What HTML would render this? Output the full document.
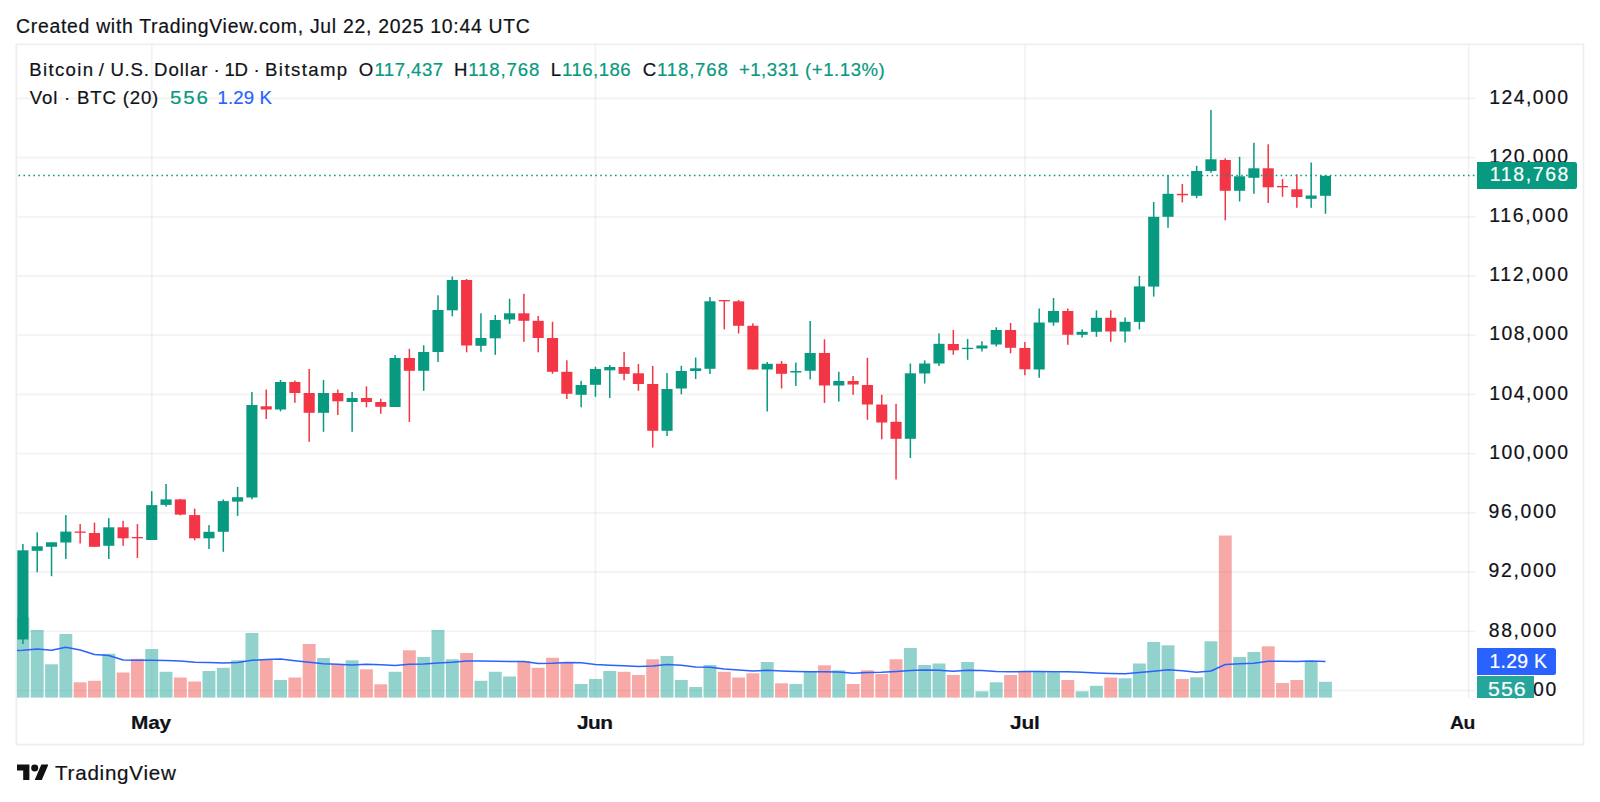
<!DOCTYPE html>
<html lang="en"><head><meta charset="utf-8"><title>BTCUSD chart</title>
<style>
html,body{margin:0;padding:0;background:#fff;}
body{width:1600px;height:802px;position:relative;overflow:hidden;font-family:"Liberation Sans",Arial,sans-serif;color:#111217;}
.t{position:absolute;white-space:nowrap;line-height:1;-webkit-text-stroke:0.2px currentColor;}
.hd{font-size:19.4px;}
.lg{font-size:18.6px;}
.g{color:#089981;} .b{color:#2962ff;} .w{color:#fff;}
.ax{font-size:19.4px;}
.tm{font-size:18.6px;font-weight:bold;}
.tv{font-size:20.6px;}
.tag{position:absolute;}
</style></head><body>
<svg width="1600" height="802" viewBox="0 0 1600 802" style="position:absolute;left:0;top:0">
<defs><clipPath id="pane"><rect x="17" y="45" width="1458.5" height="653.5"/></clipPath></defs>
<g fill="rgba(40,40,50,0.055)"><rect x="17" y="97.50" width="1458.3" height="1.8"/><rect x="17" y="156.71" width="1458.3" height="1.8"/><rect x="17" y="215.92" width="1458.3" height="1.8"/><rect x="17" y="275.13" width="1458.3" height="1.8"/><rect x="17" y="334.34" width="1458.3" height="1.8"/><rect x="17" y="393.55" width="1458.3" height="1.8"/><rect x="17" y="452.76" width="1458.3" height="1.8"/><rect x="17" y="511.97" width="1458.3" height="1.8"/><rect x="17" y="571.18" width="1458.3" height="1.8"/><rect x="17" y="630.39" width="1458.3" height="1.8"/><rect x="17" y="689.60" width="1458.3" height="1.8"/><rect x="150.83" y="45" width="1.8" height="653.6"/><rect x="594.56" y="45" width="1.8" height="653.6"/><rect x="1023.98" y="45" width="1.8" height="653.6"/><rect x="1467.71" y="45" width="1.8" height="653.6"/></g>
<rect x="16.4" y="44.3" width="1567.1" height="700.3" fill="none" stroke="#eeeef0" stroke-width="1.7"/>
<g clip-path="url(#pane)">
<rect x="16.45" y="617.5" width="12.9" height="80.1" fill="rgba(38,166,154,0.5)"/><rect x="30.76" y="630.0" width="12.9" height="67.6" fill="rgba(38,166,154,0.5)"/><rect x="45.08" y="664.3" width="12.9" height="33.3" fill="rgba(38,166,154,0.5)"/><rect x="59.39" y="634.0" width="12.9" height="63.6" fill="rgba(38,166,154,0.5)"/><rect x="73.71" y="682.3" width="12.9" height="15.3" fill="rgba(239,83,80,0.5)"/><rect x="88.02" y="680.8" width="12.9" height="16.8" fill="rgba(239,83,80,0.5)"/><rect x="102.33" y="653.8" width="12.9" height="43.8" fill="rgba(38,166,154,0.5)"/><rect x="116.65" y="672.5" width="12.9" height="25.1" fill="rgba(239,83,80,0.5)"/><rect x="130.96" y="658.8" width="12.9" height="38.8" fill="rgba(239,83,80,0.5)"/><rect x="145.28" y="649.0" width="12.9" height="48.6" fill="rgba(38,166,154,0.5)"/><rect x="159.59" y="671.8" width="12.9" height="25.8" fill="rgba(38,166,154,0.5)"/><rect x="173.90" y="677.5" width="12.9" height="20.1" fill="rgba(239,83,80,0.5)"/><rect x="188.22" y="681.5" width="12.9" height="16.1" fill="rgba(239,83,80,0.5)"/><rect x="202.53" y="671.0" width="12.9" height="26.6" fill="rgba(38,166,154,0.5)"/><rect x="216.85" y="667.8" width="12.9" height="29.8" fill="rgba(38,166,154,0.5)"/><rect x="231.16" y="660.3" width="12.9" height="37.3" fill="rgba(38,166,154,0.5)"/><rect x="245.47" y="633.0" width="12.9" height="64.6" fill="rgba(38,166,154,0.5)"/><rect x="259.79" y="659.5" width="12.9" height="38.1" fill="rgba(239,83,80,0.5)"/><rect x="274.10" y="680.0" width="12.9" height="17.6" fill="rgba(38,166,154,0.5)"/><rect x="288.42" y="677.5" width="12.9" height="20.1" fill="rgba(239,83,80,0.5)"/><rect x="302.73" y="644.0" width="12.9" height="53.6" fill="rgba(239,83,80,0.5)"/><rect x="317.04" y="658.0" width="12.9" height="39.6" fill="rgba(38,166,154,0.5)"/><rect x="331.36" y="664.3" width="12.9" height="33.3" fill="rgba(239,83,80,0.5)"/><rect x="345.67" y="660.3" width="12.9" height="37.3" fill="rgba(38,166,154,0.5)"/><rect x="359.99" y="669.3" width="12.9" height="28.3" fill="rgba(239,83,80,0.5)"/><rect x="374.30" y="684.3" width="12.9" height="13.3" fill="rgba(239,83,80,0.5)"/><rect x="388.61" y="671.8" width="12.9" height="25.8" fill="rgba(38,166,154,0.5)"/><rect x="402.93" y="650.3" width="12.9" height="47.3" fill="rgba(239,83,80,0.5)"/><rect x="417.24" y="657.0" width="12.9" height="40.6" fill="rgba(38,166,154,0.5)"/><rect x="431.56" y="630.0" width="12.9" height="67.6" fill="rgba(38,166,154,0.5)"/><rect x="445.87" y="659.3" width="12.9" height="38.3" fill="rgba(38,166,154,0.5)"/><rect x="460.18" y="653.0" width="12.9" height="44.6" fill="rgba(239,83,80,0.5)"/><rect x="474.50" y="680.8" width="12.9" height="16.8" fill="rgba(38,166,154,0.5)"/><rect x="488.81" y="671.8" width="12.9" height="25.8" fill="rgba(38,166,154,0.5)"/><rect x="503.13" y="676.5" width="12.9" height="21.1" fill="rgba(38,166,154,0.5)"/><rect x="517.44" y="661.3" width="12.9" height="36.3" fill="rgba(239,83,80,0.5)"/><rect x="531.75" y="667.8" width="12.9" height="29.8" fill="rgba(239,83,80,0.5)"/><rect x="546.07" y="657.8" width="12.9" height="39.8" fill="rgba(239,83,80,0.5)"/><rect x="560.38" y="663.0" width="12.9" height="34.6" fill="rgba(239,83,80,0.5)"/><rect x="574.70" y="684.0" width="12.9" height="13.6" fill="rgba(38,166,154,0.5)"/><rect x="589.01" y="679.0" width="12.9" height="18.6" fill="rgba(38,166,154,0.5)"/><rect x="603.32" y="671.0" width="12.9" height="26.6" fill="rgba(38,166,154,0.5)"/><rect x="617.64" y="671.8" width="12.9" height="25.8" fill="rgba(239,83,80,0.5)"/><rect x="631.95" y="675.0" width="12.9" height="22.6" fill="rgba(239,83,80,0.5)"/><rect x="646.27" y="659.3" width="12.9" height="38.3" fill="rgba(239,83,80,0.5)"/><rect x="660.58" y="656.0" width="12.9" height="41.6" fill="rgba(38,166,154,0.5)"/><rect x="674.89" y="680.0" width="12.9" height="17.6" fill="rgba(38,166,154,0.5)"/><rect x="689.21" y="687.0" width="12.9" height="10.6" fill="rgba(38,166,154,0.5)"/><rect x="703.52" y="665.0" width="12.9" height="32.6" fill="rgba(38,166,154,0.5)"/><rect x="717.84" y="671.8" width="12.9" height="25.8" fill="rgba(239,83,80,0.5)"/><rect x="732.15" y="677.5" width="12.9" height="20.1" fill="rgba(239,83,80,0.5)"/><rect x="746.46" y="673.3" width="12.9" height="24.3" fill="rgba(239,83,80,0.5)"/><rect x="760.78" y="662.0" width="12.9" height="35.6" fill="rgba(38,166,154,0.5)"/><rect x="775.09" y="683.3" width="12.9" height="14.3" fill="rgba(239,83,80,0.5)"/><rect x="789.41" y="684.0" width="12.9" height="13.6" fill="rgba(38,166,154,0.5)"/><rect x="803.72" y="671.8" width="12.9" height="25.8" fill="rgba(38,166,154,0.5)"/><rect x="818.03" y="665.3" width="12.9" height="32.3" fill="rgba(239,83,80,0.5)"/><rect x="832.35" y="670.3" width="12.9" height="27.3" fill="rgba(38,166,154,0.5)"/><rect x="846.66" y="684.0" width="12.9" height="13.6" fill="rgba(239,83,80,0.5)"/><rect x="860.98" y="670.3" width="12.9" height="27.3" fill="rgba(239,83,80,0.5)"/><rect x="875.29" y="674.0" width="12.9" height="23.6" fill="rgba(239,83,80,0.5)"/><rect x="889.60" y="659.3" width="12.9" height="38.3" fill="rgba(239,83,80,0.5)"/><rect x="903.92" y="648.0" width="12.9" height="49.6" fill="rgba(38,166,154,0.5)"/><rect x="918.23" y="665.0" width="12.9" height="32.6" fill="rgba(38,166,154,0.5)"/><rect x="932.55" y="663.5" width="12.9" height="34.1" fill="rgba(38,166,154,0.5)"/><rect x="946.86" y="675.0" width="12.9" height="22.6" fill="rgba(239,83,80,0.5)"/><rect x="961.17" y="662.0" width="12.9" height="35.6" fill="rgba(38,166,154,0.5)"/><rect x="975.49" y="691.3" width="12.9" height="6.3" fill="rgba(38,166,154,0.5)"/><rect x="989.80" y="682.3" width="12.9" height="15.3" fill="rgba(38,166,154,0.5)"/><rect x="1004.12" y="675.0" width="12.9" height="22.6" fill="rgba(239,83,80,0.5)"/><rect x="1018.43" y="672.0" width="12.9" height="25.6" fill="rgba(239,83,80,0.5)"/><rect x="1032.74" y="671.8" width="12.9" height="25.8" fill="rgba(38,166,154,0.5)"/><rect x="1047.06" y="672.3" width="12.9" height="25.3" fill="rgba(38,166,154,0.5)"/><rect x="1061.37" y="680.0" width="12.9" height="17.6" fill="rgba(239,83,80,0.5)"/><rect x="1075.69" y="691.3" width="12.9" height="6.3" fill="rgba(38,166,154,0.5)"/><rect x="1090.00" y="685.8" width="12.9" height="11.8" fill="rgba(38,166,154,0.5)"/><rect x="1104.31" y="677.5" width="12.9" height="20.1" fill="rgba(239,83,80,0.5)"/><rect x="1118.63" y="678.3" width="12.9" height="19.3" fill="rgba(38,166,154,0.5)"/><rect x="1132.94" y="663.5" width="12.9" height="34.1" fill="rgba(38,166,154,0.5)"/><rect x="1147.26" y="642.0" width="12.9" height="55.6" fill="rgba(38,166,154,0.5)"/><rect x="1161.57" y="645.3" width="12.9" height="52.3" fill="rgba(38,166,154,0.5)"/><rect x="1175.88" y="679.0" width="12.9" height="18.6" fill="rgba(239,83,80,0.5)"/><rect x="1190.20" y="677.3" width="12.9" height="20.3" fill="rgba(38,166,154,0.5)"/><rect x="1204.51" y="641.3" width="12.9" height="56.3" fill="rgba(38,166,154,0.5)"/><rect x="1218.83" y="535.5" width="12.9" height="162.1" fill="rgba(239,83,80,0.5)"/><rect x="1233.14" y="657.0" width="12.9" height="40.6" fill="rgba(38,166,154,0.5)"/><rect x="1247.45" y="652.0" width="12.9" height="45.6" fill="rgba(38,166,154,0.5)"/><rect x="1261.77" y="646.3" width="12.9" height="51.3" fill="rgba(239,83,80,0.5)"/><rect x="1276.08" y="683.0" width="12.9" height="14.6" fill="rgba(239,83,80,0.5)"/><rect x="1290.40" y="680.0" width="12.9" height="17.6" fill="rgba(239,83,80,0.5)"/><rect x="1304.71" y="661.3" width="12.9" height="36.3" fill="rgba(38,166,154,0.5)"/><rect x="1319.02" y="681.8" width="12.9" height="15.8" fill="rgba(38,166,154,0.5)"/>
<polyline fill="none" stroke="#2962ff" stroke-width="1.5" stroke-linejoin="round" points="17.0,650.4 22.9,650.2 37.2,649.0 51.5,650.3 65.8,647.3 80.2,650.0 94.5,654.5 108.8,655.5 123.1,660.0 137.4,660.2 151.7,660.3 166.0,660.5 180.4,661.0 194.7,662.2 209.0,662.5 223.3,663.0 237.6,662.5 251.9,660.3 266.2,659.5 280.6,659.0 294.9,660.8 309.2,662.3 323.5,663.8 337.8,664.3 352.1,665.0 366.4,664.3 380.8,664.8 395.1,665.5 409.4,664.3 423.7,664.0 438.0,663.0 452.3,662.3 466.6,661.0 480.9,661.0 495.3,661.3 509.6,661.5 523.9,661.5 538.2,663.5 552.5,663.3 566.8,662.5 581.1,662.8 595.5,664.5 609.8,665.3 624.1,665.8 638.4,666.5 652.7,666.0 667.0,664.5 681.3,665.3 695.7,667.0 710.0,667.3 724.3,669.0 738.6,670.0 752.9,671.0 767.2,670.2 781.5,671.0 795.9,671.5 810.2,671.8 824.5,671.8 838.8,672.0 853.1,673.3 867.4,672.5 881.7,672.3 896.1,671.5 910.4,670.5 924.7,670.0 939.0,670.3 953.3,671.3 967.6,670.3 981.9,670.5 996.3,671.5 1010.6,671.8 1024.9,671.5 1039.2,671.5 1053.5,671.8 1067.8,671.8 1082.1,672.3 1096.5,673.0 1110.8,673.5 1125.1,673.8 1139.4,672.5 1153.7,671.2 1168.0,669.8 1182.3,670.8 1196.6,672.3 1211.0,671.0 1225.3,664.5 1239.6,663.8 1253.9,663.3 1268.2,661.3 1282.5,661.3 1296.8,661.5 1311.2,661.0 1325.5,661.5"/>
<rect x="22.15" y="544.0" width="1.5" height="100.0" fill="#089981"/><rect x="17.35" y="550.3" width="11.1" height="89.2" fill="#089981"/><rect x="36.46" y="532.3" width="1.5" height="39.9" fill="#089981"/><rect x="31.66" y="546.3" width="11.1" height="4.5" fill="#089981"/><rect x="50.78" y="542.3" width="1.5" height="33.9" fill="#089981"/><rect x="45.98" y="542.3" width="11.1" height="4.5" fill="#089981"/><rect x="65.09" y="515.1" width="1.5" height="43.9" fill="#089981"/><rect x="60.29" y="531.6" width="11.1" height="10.9" fill="#089981"/><rect x="79.41" y="524.1" width="1.5" height="19.4" fill="#f23645"/><rect x="74.61" y="531.5" width="11.1" height="1.3" fill="#f23645"/><rect x="93.72" y="522.6" width="1.5" height="24.2" fill="#f23645"/><rect x="88.92" y="533.0" width="11.1" height="13.8" fill="#f23645"/><rect x="108.03" y="518.1" width="1.5" height="40.9" fill="#089981"/><rect x="103.23" y="527.3" width="11.1" height="18.5" fill="#089981"/><rect x="122.35" y="520.8" width="1.5" height="25.0" fill="#f23645"/><rect x="117.55" y="527.3" width="11.1" height="11.0" fill="#f23645"/><rect x="136.66" y="524.1" width="1.5" height="33.9" fill="#f23645"/><rect x="131.86" y="537.0" width="11.1" height="1.3" fill="#f23645"/><rect x="150.98" y="491.2" width="1.5" height="48.8" fill="#089981"/><rect x="146.18" y="505.1" width="11.1" height="34.9" fill="#089981"/><rect x="165.29" y="484.0" width="1.5" height="22.6" fill="#089981"/><rect x="160.49" y="499.4" width="11.1" height="5.5" fill="#089981"/><rect x="179.60" y="498.9" width="1.5" height="16.5" fill="#f23645"/><rect x="174.80" y="499.4" width="11.1" height="15.2" fill="#f23645"/><rect x="193.92" y="508.6" width="1.5" height="31.7" fill="#f23645"/><rect x="189.12" y="515.1" width="11.1" height="23.2" fill="#f23645"/><rect x="208.23" y="525.1" width="1.5" height="23.9" fill="#089981"/><rect x="203.43" y="531.8" width="11.1" height="6.5" fill="#089981"/><rect x="222.55" y="499.4" width="1.5" height="52.4" fill="#089981"/><rect x="217.75" y="501.1" width="11.1" height="30.7" fill="#089981"/><rect x="236.86" y="486.9" width="1.5" height="29.0" fill="#089981"/><rect x="232.06" y="497.2" width="11.1" height="4.4" fill="#089981"/><rect x="251.17" y="392.0" width="1.5" height="107.2" fill="#089981"/><rect x="246.37" y="405.0" width="11.1" height="92.5" fill="#089981"/><rect x="265.49" y="389.5" width="1.5" height="29.5" fill="#f23645"/><rect x="260.69" y="406.3" width="11.1" height="3.2" fill="#f23645"/><rect x="279.80" y="380.0" width="1.5" height="31.3" fill="#089981"/><rect x="275.00" y="382.0" width="11.1" height="27.5" fill="#089981"/><rect x="294.12" y="380.5" width="1.5" height="22.3" fill="#f23645"/><rect x="289.32" y="382.0" width="11.1" height="11.0" fill="#f23645"/><rect x="308.43" y="369.0" width="1.5" height="72.8" fill="#f23645"/><rect x="303.63" y="393.0" width="11.1" height="19.8" fill="#f23645"/><rect x="322.74" y="380.0" width="1.5" height="51.8" fill="#089981"/><rect x="317.94" y="393.0" width="11.1" height="19.8" fill="#089981"/><rect x="337.06" y="389.5" width="1.5" height="25.5" fill="#f23645"/><rect x="332.26" y="393.0" width="11.1" height="8.3" fill="#f23645"/><rect x="351.37" y="392.0" width="1.5" height="39.8" fill="#089981"/><rect x="346.57" y="398.0" width="11.1" height="4.0" fill="#089981"/><rect x="365.69" y="386.3" width="1.5" height="21.0" fill="#f23645"/><rect x="360.89" y="398.0" width="11.1" height="4.0" fill="#f23645"/><rect x="380.00" y="398.8" width="1.5" height="15.0" fill="#f23645"/><rect x="375.20" y="402.0" width="11.1" height="4.8" fill="#f23645"/><rect x="394.31" y="355.0" width="1.5" height="52.0" fill="#089981"/><rect x="389.51" y="358.0" width="11.1" height="49.0" fill="#089981"/><rect x="408.63" y="348.8" width="1.5" height="73.2" fill="#f23645"/><rect x="403.83" y="358.0" width="11.1" height="12.8" fill="#f23645"/><rect x="422.94" y="345.3" width="1.5" height="45.5" fill="#089981"/><rect x="418.14" y="352.0" width="11.1" height="18.8" fill="#089981"/><rect x="437.26" y="295.3" width="1.5" height="66.7" fill="#089981"/><rect x="432.46" y="310.0" width="11.1" height="42.0" fill="#089981"/><rect x="451.57" y="276.5" width="1.5" height="39.8" fill="#089981"/><rect x="446.77" y="280.0" width="11.1" height="30.3" fill="#089981"/><rect x="465.88" y="279.0" width="1.5" height="73.3" fill="#f23645"/><rect x="461.08" y="280.0" width="11.1" height="65.5" fill="#f23645"/><rect x="480.20" y="313.3" width="1.5" height="38.5" fill="#089981"/><rect x="475.40" y="338.0" width="11.1" height="7.8" fill="#089981"/><rect x="494.51" y="315.0" width="1.5" height="39.8" fill="#089981"/><rect x="489.71" y="320.0" width="11.1" height="18.3" fill="#089981"/><rect x="508.83" y="298.8" width="1.5" height="25.0" fill="#089981"/><rect x="504.03" y="313.3" width="11.1" height="6.2" fill="#089981"/><rect x="523.14" y="293.8" width="1.5" height="48.0" fill="#f23645"/><rect x="518.34" y="313.3" width="11.1" height="7.5" fill="#f23645"/><rect x="537.45" y="316.0" width="1.5" height="36.3" fill="#f23645"/><rect x="532.65" y="320.8" width="11.1" height="17.2" fill="#f23645"/><rect x="551.77" y="321.8" width="1.5" height="52.0" fill="#f23645"/><rect x="546.97" y="338.0" width="11.1" height="33.8" fill="#f23645"/><rect x="566.08" y="360.3" width="1.5" height="38.7" fill="#f23645"/><rect x="561.28" y="371.8" width="11.1" height="22.0" fill="#f23645"/><rect x="580.40" y="380.8" width="1.5" height="26.5" fill="#089981"/><rect x="575.60" y="385.0" width="11.1" height="9.8" fill="#089981"/><rect x="594.71" y="366.8" width="1.5" height="30.0" fill="#089981"/><rect x="589.91" y="369.0" width="11.1" height="15.8" fill="#089981"/><rect x="609.02" y="365.0" width="1.5" height="33.0" fill="#089981"/><rect x="604.22" y="367.0" width="11.1" height="3.3" fill="#089981"/><rect x="623.34" y="352.0" width="1.5" height="28.3" fill="#f23645"/><rect x="618.54" y="367.0" width="11.1" height="6.8" fill="#f23645"/><rect x="637.65" y="364.0" width="1.5" height="26.8" fill="#f23645"/><rect x="632.85" y="373.3" width="11.1" height="10.7" fill="#f23645"/><rect x="651.97" y="366.0" width="1.5" height="81.5" fill="#f23645"/><rect x="647.17" y="384.0" width="11.1" height="46.8" fill="#f23645"/><rect x="666.28" y="373.0" width="1.5" height="63.0" fill="#089981"/><rect x="661.48" y="389.0" width="11.1" height="41.8" fill="#089981"/><rect x="680.59" y="365.8" width="1.5" height="28.5" fill="#089981"/><rect x="675.79" y="371.0" width="11.1" height="17.5" fill="#089981"/><rect x="694.91" y="357.5" width="1.5" height="21.5" fill="#089981"/><rect x="690.11" y="368.3" width="11.1" height="2.7" fill="#089981"/><rect x="709.22" y="297.0" width="1.5" height="77.0" fill="#089981"/><rect x="704.42" y="301.3" width="11.1" height="67.5" fill="#089981"/><rect x="723.54" y="300.0" width="1.5" height="29.3" fill="#f23645"/><rect x="718.74" y="300.0" width="11.1" height="1.3" fill="#f23645"/><rect x="737.85" y="300.0" width="1.5" height="33.5" fill="#f23645"/><rect x="733.05" y="301.3" width="11.1" height="24.5" fill="#f23645"/><rect x="752.16" y="323.3" width="1.5" height="46.2" fill="#f23645"/><rect x="747.36" y="325.8" width="11.1" height="43.7" fill="#f23645"/><rect x="766.48" y="362.0" width="1.5" height="49.5" fill="#089981"/><rect x="761.68" y="363.8" width="11.1" height="5.7" fill="#089981"/><rect x="780.79" y="361.0" width="1.5" height="27.5" fill="#f23645"/><rect x="775.99" y="363.8" width="11.1" height="10.0" fill="#f23645"/><rect x="795.11" y="362.6" width="1.5" height="23.3" fill="#089981"/><rect x="790.31" y="371.0" width="11.1" height="1.5" fill="#089981"/><rect x="809.42" y="321.0" width="1.5" height="58.4" fill="#089981"/><rect x="804.62" y="353.0" width="11.1" height="17.8" fill="#089981"/><rect x="823.73" y="339.3" width="1.5" height="63.7" fill="#f23645"/><rect x="818.93" y="353.0" width="11.1" height="32.5" fill="#f23645"/><rect x="838.05" y="371.8" width="1.5" height="29.7" fill="#089981"/><rect x="833.25" y="381.0" width="11.1" height="4.5" fill="#089981"/><rect x="852.36" y="376.0" width="1.5" height="18.8" fill="#f23645"/><rect x="847.56" y="381.0" width="11.1" height="3.5" fill="#f23645"/><rect x="866.68" y="357.8" width="1.5" height="62.0" fill="#f23645"/><rect x="861.88" y="385.0" width="11.1" height="19.5" fill="#f23645"/><rect x="880.99" y="394.8" width="1.5" height="44.5" fill="#f23645"/><rect x="876.19" y="404.5" width="11.1" height="18.0" fill="#f23645"/><rect x="895.30" y="403.8" width="1.5" height="75.7" fill="#f23645"/><rect x="890.50" y="421.8" width="11.1" height="17.0" fill="#f23645"/><rect x="909.62" y="363.5" width="1.5" height="94.5" fill="#089981"/><rect x="904.82" y="373.3" width="11.1" height="65.5" fill="#089981"/><rect x="923.93" y="360.3" width="1.5" height="23.2" fill="#089981"/><rect x="919.13" y="363.5" width="11.1" height="10.0" fill="#089981"/><rect x="938.25" y="333.3" width="1.5" height="32.7" fill="#089981"/><rect x="933.45" y="343.8" width="11.1" height="19.7" fill="#089981"/><rect x="952.56" y="330.0" width="1.5" height="24.8" fill="#f23645"/><rect x="947.76" y="344.0" width="11.1" height="6.3" fill="#f23645"/><rect x="966.87" y="339.0" width="1.5" height="20.8" fill="#089981"/><rect x="962.07" y="347.8" width="11.1" height="1.3" fill="#089981"/><rect x="981.19" y="341.3" width="1.5" height="10.2" fill="#089981"/><rect x="976.39" y="345.5" width="11.1" height="3.0" fill="#089981"/><rect x="995.50" y="327.3" width="1.5" height="19.2" fill="#089981"/><rect x="990.70" y="330.0" width="11.1" height="14.5" fill="#089981"/><rect x="1009.82" y="323.0" width="1.5" height="30.3" fill="#f23645"/><rect x="1005.02" y="330.0" width="11.1" height="17.8" fill="#f23645"/><rect x="1024.13" y="342.0" width="1.5" height="33.3" fill="#f23645"/><rect x="1019.33" y="348.0" width="11.1" height="21.3" fill="#f23645"/><rect x="1038.44" y="308.5" width="1.5" height="69.3" fill="#089981"/><rect x="1033.64" y="322.5" width="11.1" height="47.0" fill="#089981"/><rect x="1052.76" y="298.0" width="1.5" height="27.8" fill="#089981"/><rect x="1047.96" y="311.0" width="11.1" height="11.5" fill="#089981"/><rect x="1067.07" y="308.5" width="1.5" height="36.3" fill="#f23645"/><rect x="1062.27" y="311.0" width="11.1" height="23.8" fill="#f23645"/><rect x="1081.39" y="329.3" width="1.5" height="8.2" fill="#089981"/><rect x="1076.59" y="331.8" width="11.1" height="3.0" fill="#089981"/><rect x="1095.70" y="310.3" width="1.5" height="26.5" fill="#089981"/><rect x="1090.90" y="317.8" width="11.1" height="14.0" fill="#089981"/><rect x="1110.01" y="310.3" width="1.5" height="31.5" fill="#f23645"/><rect x="1105.21" y="317.8" width="11.1" height="13.7" fill="#f23645"/><rect x="1124.33" y="317.5" width="1.5" height="25.0" fill="#089981"/><rect x="1119.53" y="321.8" width="11.1" height="9.7" fill="#089981"/><rect x="1138.64" y="275.9" width="1.5" height="53.5" fill="#089981"/><rect x="1133.84" y="286.4" width="11.1" height="35.5" fill="#089981"/><rect x="1152.96" y="202.0" width="1.5" height="94.6" fill="#089981"/><rect x="1148.16" y="216.8" width="11.1" height="69.8" fill="#089981"/><rect x="1167.27" y="175.3" width="1.5" height="52.5" fill="#089981"/><rect x="1162.47" y="193.8" width="11.1" height="23.0" fill="#089981"/><rect x="1181.58" y="184.0" width="1.5" height="18.5" fill="#f23645"/><rect x="1176.78" y="193.8" width="11.1" height="1.5" fill="#f23645"/><rect x="1195.90" y="165.8" width="1.5" height="32.5" fill="#089981"/><rect x="1191.10" y="171.0" width="11.1" height="24.8" fill="#089981"/><rect x="1210.21" y="110.0" width="1.5" height="62.8" fill="#089981"/><rect x="1205.41" y="159.3" width="11.1" height="11.7" fill="#089981"/><rect x="1224.53" y="158.3" width="1.5" height="62.0" fill="#f23645"/><rect x="1219.73" y="160.0" width="11.1" height="30.8" fill="#f23645"/><rect x="1238.84" y="156.8" width="1.5" height="44.7" fill="#089981"/><rect x="1234.04" y="176.3" width="11.1" height="14.5" fill="#089981"/><rect x="1253.15" y="142.8" width="1.5" height="51.0" fill="#089981"/><rect x="1248.35" y="168.3" width="11.1" height="9.5" fill="#089981"/><rect x="1267.47" y="144.3" width="1.5" height="58.7" fill="#f23645"/><rect x="1262.67" y="168.3" width="11.1" height="19.0" fill="#f23645"/><rect x="1281.78" y="179.0" width="1.5" height="17.8" fill="#f23645"/><rect x="1276.98" y="186.0" width="11.1" height="1.3" fill="#f23645"/><rect x="1296.10" y="174.3" width="1.5" height="33.5" fill="#f23645"/><rect x="1291.30" y="189.3" width="11.1" height="7.7" fill="#f23645"/><rect x="1310.41" y="162.5" width="1.5" height="45.3" fill="#089981"/><rect x="1305.61" y="195.5" width="11.1" height="3.3" fill="#089981"/><rect x="1324.72" y="175.0" width="1.5" height="38.8" fill="#089981"/><rect x="1319.92" y="175.8" width="11.1" height="20.0" fill="#089981"/>
<line x1="18.5" y1="175.5" x2="1476.5" y2="175.5" stroke="#089981" stroke-width="1.6" stroke-dasharray="1.6 3.33" stroke-linecap="butt"/>
</g>
</svg>
<div id="hd" class="t hd" style="left:16.00px;top:16.6px;letter-spacing:0.72px;">Created with TradingView.com, Jul 22, 2025 10:44 UTC</div>
<div id="w1" class="t lg" style="left:29.37px;top:60.5px;letter-spacing:1.31px;">Bitcoin</div>
<div id="w2" class="t lg" style="left:98.68px;top:60.5px;letter-spacing:0.50px;">/</div>
<div id="w3" class="t lg" style="left:110.42px;top:60.5px;letter-spacing:0.75px;">U.S.</div>
<div id="w4" class="t lg" style="left:154.01px;top:60.5px;letter-spacing:0.98px;">Dollar</div>
<div id="w5" class="t lg" style="left:213.52px;top:60.5px;letter-spacing:0.50px;">·</div>
<div id="w6" class="t lg" style="left:224.46px;top:60.5px;letter-spacing:-0.36px;">1D</div>
<div id="w7" class="t lg" style="left:253.52px;top:60.5px;letter-spacing:0.50px;">·</div>
<div id="w8" class="t lg" style="left:265.09px;top:60.5px;letter-spacing:1.39px;">Bitstamp</div>
<div id="O" class="t lg" style="left:358.72px;top:60.5px;letter-spacing:0.50px;">O</div>
<div id="Ov" class="t lg g" style="left:374.38px;top:60.5px;letter-spacing:0.48px;">117,437</div>
<div id="H" class="t lg" style="left:454.06px;top:60.5px;letter-spacing:0.50px;">H</div>
<div id="Hv" class="t lg g" style="left:468.32px;top:60.5px;letter-spacing:0.85px;">118,768</div>
<div id="L" class="t lg" style="left:550.79px;top:60.5px;letter-spacing:0.50px;">L</div>
<div id="Lv" class="t lg g" style="left:561.97px;top:60.5px;letter-spacing:0.48px;">116,186</div>
<div id="Cc" class="t lg" style="left:642.85px;top:60.5px;letter-spacing:0.50px;">C</div>
<div id="Cv" class="t lg g" style="left:657.07px;top:60.5px;letter-spacing:0.81px;">118,768</div>
<div id="chg" class="t lg g" style="left:738.90px;top:60.5px;letter-spacing:0.51px;">+1,331</div>
<div id="pct" class="t lg g" style="left:805.06px;top:60.5px;letter-spacing:0.54px;">(+1.13%)</div>
<div id="vol" class="t lg" style="left:29.82px;top:88.5px;letter-spacing:0.82px;">Vol · BTC (20)</div>
<div id="v556" class="t lg g" style="left:169.94px;top:88.5px;letter-spacing:1.65px;transform:scaleX(1.1);transform-origin:0 0">556</div>
<div id="v129" class="t lg b" style="left:217.47px;top:88.5px;letter-spacing:0.15px;">1.29 K</div>
<div id="may" class="t tm" style="left:130.97px;top:714.4px;letter-spacing:-0.14px;transform:scaleX(1.12);transform-origin:0 0">May</div>
<div id="jun" class="t tm" style="left:577.26px;top:714.4px;letter-spacing:-0.50px;transform:scaleX(1.12);transform-origin:0 0">Jun</div>
<div id="jul" class="t tm" style="left:1009.86px;top:714.4px;letter-spacing:-0.17px;transform:scaleX(1.12);transform-origin:0 0">Jul</div>
<div id="tv" class="t tv" style="left:55.05px;top:763.1px;letter-spacing:0.74px;">TradingView</div>
<div id="a0" class="t ax" style="left:1489.14px;top:87.6px;letter-spacing:1.49px;">124,000</div>
<div id="a1" class="t ax" style="left:1489.14px;top:146.8px;letter-spacing:1.49px;">120,000</div>
<div id="a2" class="t ax" style="left:1489.14px;top:206.0px;letter-spacing:1.73px;">116,000</div>
<div id="a3" class="t ax" style="left:1489.14px;top:265.2px;letter-spacing:1.73px;">112,000</div>
<div id="a4" class="t ax" style="left:1489.14px;top:324.4px;letter-spacing:1.49px;">108,000</div>
<div id="a5" class="t ax" style="left:1489.14px;top:383.7px;letter-spacing:1.49px;">104,000</div>
<div id="a6" class="t ax" style="left:1489.14px;top:442.9px;letter-spacing:1.49px;">100,000</div>
<div id="a7" class="t ax" style="left:1488.56px;top:502.1px;letter-spacing:1.65px;">96,000</div>
<div id="a8" class="t ax" style="left:1488.56px;top:561.3px;letter-spacing:1.65px;">92,000</div>
<div id="a9" class="t ax" style="left:1488.71px;top:620.5px;letter-spacing:1.64px;">88,000</div>
<div id="a10" class="t ax" style="left:1488.71px;top:679.7px;letter-spacing:1.64px;">84,000</div>
<div id="aug" class="t tm" style="left:1449.7px;top:714.4px;letter-spacing:-0.4px;width:24.33px;overflow:hidden;transform:scaleX(1.04);transform-origin:0 0">Aug</div>
<div class="tag" style="left:1476.8px;top:161.7px;width:100.3px;height:27.3px;background:#089981;border-radius:0 2.5px 2.5px 0"></div>
<div class="tag" style="left:1476.8px;top:675.6px;width:57.3px;height:22.9px;background:#26a69a"></div>
<div class="tag" style="left:1476.8px;top:647.9px;width:79px;height:27.6px;background:#2962ff;border-radius:0 2.5px 2.5px 0"></div>
<div id="p1" class="t ax w" style="left:1489.83px;top:164.9px;letter-spacing:1.65px;">118,768</div>
<div id="p2" class="t ax w" style="left:1489.38px;top:652.3px;letter-spacing:0.30px;">1.29 K</div>
<div id="p3" class="t ax w" style="left:1488.48px;top:680.3px;letter-spacing:0.97px;height:18.2px;overflow:hidden;transform:scaleX(1.1);transform-origin:0 0">556</div>
<svg style="position:absolute;left:16.56px;top:760.83px" width="31.86" height="24.28" viewBox="0 0 36 28" preserveAspectRatio="none"><path d="M14 22H7V11H0V4h14v18zM28 22h-8l7.5-18h8L28 22z" fill="#111"/><circle cx="20" cy="8" r="4" fill="#111"/></svg>
</body></html>
